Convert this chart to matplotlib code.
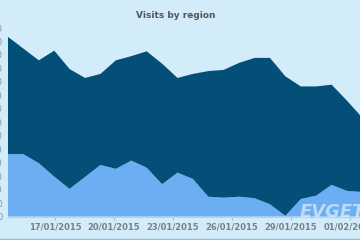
import matplotlib.pyplot as plt
import numpy as np

# sample index (one point per step)
total = [1334, 1247, 1160, 1232, 1095, 1029, 1059, 1160, 1191, 1227, 1135, 1029,
         1059, 1080, 1089, 1141, 1178, 1178, 1041, 966, 966, 979, 860, 733]
region_a = [463, 463, 396, 296, 205, 294, 383, 354, 415, 363, 240, 326,
            279, 147, 140, 147, 136, 91, 5, 130, 155, 235, 190, 182]
region_b = [t - a for t, a in zip(total, region_a)]

tick_labels = ["17/01/2015", "20/01/2015", "23/01/2015", "26/01/2015",
               "29/01/2015", "01/02/2015"]
y_ticks = list(range(0, 1401, 100))

bg = "#d3ecfa"
light = "#6caef2"
dark = "#034f78"

fig = plt.figure(figsize=(3.6, 2.4), dpi=100, facecolor=bg)
ax = fig.add_axes([8 / 360, (240 - 216.5) / 240, 352 / 360, 188.5 / 240])
ax.set_facecolor(bg)

x = np.arange(len(total))
ax.stackplot(x, region_a, region_b, colors=[light, dark], linewidth=0)

ax.set_xlim(0, 352 / 15.41)
ax.set_ylim(0, 1400)

ax.set_xticks([3.05 + 3.83 * i for i in range(len(tick_labels))])
ax.set_xticklabels(tick_labels, fontsize=6, fontweight="bold", color="#7a7f85")
ax.tick_params(axis="x", length=2, color="#a9bfcc", pad=2)
ax.set_yticks(y_ticks)
ax.set_yticklabels([str(v) for v in y_ticks], fontsize=6, color="#8a8f95")
ax.tick_params(axis="y", length=0, pad=4)

for s in ["top", "right", "left"]:
    ax.spines[s].set_visible(False)
ax.spines["bottom"].set_color("#b8d3e4")
ax.spines["bottom"].set_linewidth(0.8)

fig.text(176 / 360, 1 - 15 / 240, "Visits by region", ha="center", va="center",
         fontsize=6.5, fontweight="bold", color="#555555")

# faint watermark
fig.text(300 / 360, 1 - 212 / 240, "EVGET", fontsize=13, fontweight="bold",
         fontstyle="italic", color="white", alpha=0.55, va="center")

fig.add_artist(plt.Line2D([0, 1], [1.5 / 240, 1.5 / 240], color="#9fb8c8",
                          linewidth=1, transform=fig.transFigure))

fig.savefig("out.png", dpi=100, facecolor=bg)
